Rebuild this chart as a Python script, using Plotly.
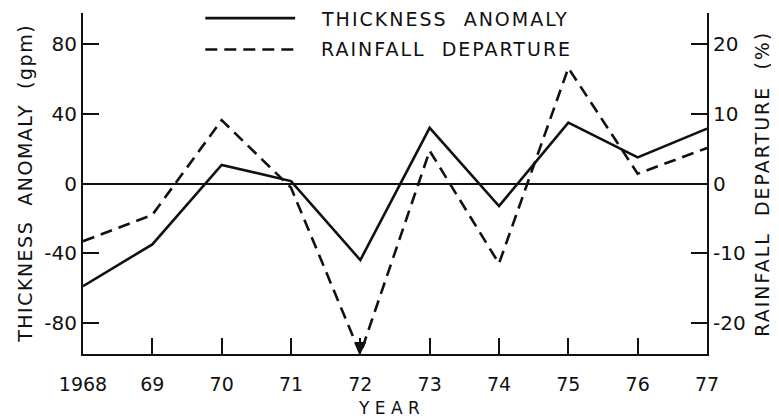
import plotly.graph_objects as go

years = [1968, 1969, 1970, 1971, 1972, 1973, 1974, 1975, 1976, 1977]
year_labels = ["1968", "69", "70", "71", "72", "73", "74", "75", "76", "77"]
thickness = [-59, -35, 10.7, 1.4, -44, 32, -13, 35, 15, 31.5]
rainfall = [-8.3, -4.5, 9.1, -0.6, -24.5, 4.7, -11.5, 16.6, 1.4, 5.1]
left_ticks = [-80, -40, 0, 40, 80]
right_ticks = [-20, -10, 0, 10, 20]
right_tick_labels = ["-20", "-10", "0", "10", "20"]
left_tick_labels = ["-80", "-40", "0", "40", "80"]

FONT = "DejaVu Sans"
ink = "#111111"


def spaced(txt, px):
    return '<span style="letter-spacing:%spx">%s</span>' % (px, txt)


fig = go.Figure()
fig.add_trace(go.Scatter(x=years, y=thickness, mode="lines", name="THICKNESS ANOMALY",
                         line=dict(color=ink, width=2.6), yaxis="y"))
fig.add_trace(go.Scatter(x=years, y=rainfall, mode="lines", name="RAINFALL DEPARTURE",
                         line=dict(color=ink, width=2.6, dash="12px,7px"), yaxis="y2"))

# arrowhead at off-scale 1972 rainfall
fig.add_annotation(x=years[4], y=rainfall[4], xref="x", yref="y2", text="",
                   showarrow=True, arrowhead=2, arrowsize=1.2, arrowwidth=2,
                   arrowcolor=ink, ax=0, ay=-14)

# legend (drawn manually to match long sample lines)
fig.add_shape(type="line", xref="paper", yref="paper", x0=0.196, x1=0.34, y0=0.985, y1=0.985,
              line=dict(color=ink, width=2.6))
fig.add_shape(type="line", xref="paper", yref="paper", x0=0.196, x1=0.34, y0=0.893, y1=0.893,
              line=dict(color=ink, width=2.6, dash="12px,7px"))
fig.add_annotation(xref="paper", yref="paper", x=0.378, y=0.982, xanchor="left", yanchor="middle",
                   text=spaced("THICKNESS  ANOMALY", 2), showarrow=False,
                   font=dict(family=FONT, size=19, color=ink))
fig.add_annotation(xref="paper", yref="paper", x=0.378, y=0.893, xanchor="left", yanchor="middle",
                   text=spaced("RAINFALL  DEPARTURE", 2), showarrow=False,
                   font=dict(family=FONT, size=19, color=ink))

# axis titles as annotations for exact placement
fig.add_annotation(xref="paper", yref="paper", x=-0.094, y=0.5, xanchor="center", yanchor="middle",
                   text=spaced("THICKNESS  ANOMALY  (gpm)", 1.5), textangle=-90, showarrow=False,
                   font=dict(family=FONT, size=19, color=ink))
fig.add_annotation(xref="paper", yref="paper", x=1.087, y=0.5, xanchor="center", yanchor="middle",
                   text=spaced("RAINFALL  DEPARTURE  (%)", 2), textangle=-90, showarrow=False,
                   font=dict(family=FONT, size=19, color=ink))
fig.add_annotation(xref="paper", yref="paper", x=0.49, y=-0.158, xanchor="center", yanchor="middle",
                   text="Y E A R", showarrow=False,
                   font=dict(family=FONT, size=17, color=ink))

# the page body has an 8px margin, so the figure is sized and placed to compensate
fig.update_layout(
    width=771, height=410,
    margin=dict(l=75, r=72, t=5, b=64, autoexpand=False),
    paper_bgcolor="white", plot_bgcolor="white",
    showlegend=False,
    font=dict(family=FONT, size=19, color=ink),
    xaxis=dict(range=[1968, 1977], tickvals=years, ticktext=year_labels, automargin=False,
               showgrid=False, zeroline=False, showline=True, linecolor=ink, linewidth=2,
               ticks="inside", ticklen=16, tickwidth=1.6, tickcolor=ink,
               ticklabelstandoff=12, tickfont=dict(size=19)),
    yaxis=dict(range=[-98, 98], tickvals=left_ticks, ticktext=left_tick_labels, automargin=False,
               showgrid=False, zeroline=True, zerolinecolor=ink, zerolinewidth=1.6,
               showline=True, linecolor=ink, linewidth=2,
               ticks="inside", ticklen=16, tickwidth=1.6, tickcolor=ink,
               tickfont=dict(size=20)),
    yaxis2=dict(range=[-24.5, 24.5], tickvals=right_ticks, ticktext=right_tick_labels,
                overlaying="y", side="right", automargin=False,
                showgrid=False, zeroline=False, showline=True, linecolor=ink, linewidth=2,
                ticks="inside", ticklen=16, tickwidth=1.6, tickcolor=ink,
                tickfont=dict(size=20)),
)

fig.write_html("out.html")
